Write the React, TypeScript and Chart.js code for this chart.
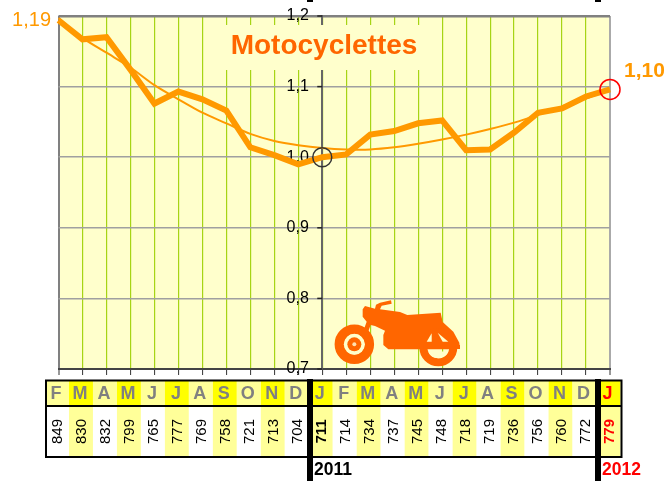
import React, { useEffect, useRef } from "react";
import { Chart, registerables } from "chart.js";

Chart.register(...registerables);

const months = ["F", "M", "A", "M", "J", "J", "A", "S", "O", "N", "D", "J", "F", "M", "A", "M", "J", "J", "A", "S", "O", "N", "D", "J"];
const counts = [849, 830, 832, 799, 765, 777, 769, 758, 721, 713, 704, 711, 714, 734, 737, 745, 748, 718, 719, 736, 756, 760, 772, 779];
const indexValues = [1.194, 1.167, 1.17, 1.124, 1.076, 1.093, 1.082, 1.066, 1.014, 1.003, 0.99, 1.0, 1.004, 1.032, 1.037, 1.048, 1.052, 1.01, 1.011, 1.035, 1.063, 1.069, 1.086, 1.096];
const trendValues = [1.197, 1.169, 1.148, 1.127, 1.102, 1.082, 1.063, 1.048, 1.033, 1.023, 1.017, 1.013, 1.011, 1.011, 1.014, 1.019, 1.025, 1.032, 1.04, 1.049, 1.06, 1.072, 1.083, 1.096];
const baseCircle = [null, null, null, null, null, null, null, null, null, null, null, 1.0, null, null, null, null, null, null, null, null, null, null, null, null];
const lastCircle = [null, null, null, null, null, null, null, null, null, null, null, null, null, null, null, null, null, null, null, null, null, null, null, 1.096];
const titleText = "Motocyclettes";
const firstLabel = "1,19";
const lastLabel = "1,10";
const years = ["2011", "2012"];

const FONT = '"Liberation Sans", Arial, sans-serif';
const ORANGE = "#FF9900";
const TITLE_ORANGE = "#FF6600";

function drawMoto(ctx: CanvasRenderingContext2D) {
  const X = (v: number) => 320 + v / 3;
  const Y = (v: number) => 290 + v / 3;
  ctx.save();
  ctx.fillStyle = TITLE_ORANGE;
  const body: [number, number][] = [
    [128, 58], [135, 48], [165, 56], [168, 44], [180, 38], [213, 31], [215, 41], [185, 47], [180, 58], [240, 66], [262, 75], [362, 68], [368, 96],
    [400, 125], [418, 158], [420, 176], [395, 178], [300, 178], [205, 178], [190, 165], [190, 135], [195, 122], [165, 108], [152, 105], [135, 150], [122, 145], [140, 95], [128, 80],
  ];
  ctx.beginPath();
  body.forEach(([a, b], i) => (i ? ctx.lineTo(X(a), Y(b)) : ctx.moveTo(X(a), Y(b))));
  ctx.closePath();
  ctx.fill();
  // front wheel
  ctx.strokeStyle = TITLE_ORANGE;
  ctx.lineWidth = 9.5;
  ctx.beginPath();
  ctx.arc(X(103), Y(163), 15, 0, Math.PI * 2);
  ctx.stroke();
  ctx.fillStyle = "#FFFFCC";
  ctx.beginPath();
  ctx.arc(X(103), Y(163), 10.5, 0, Math.PI * 2);
  ctx.fill();
  ctx.fillStyle = TITLE_ORANGE;
  ctx.beginPath();
  ctx.arc(X(103), Y(163), 7, 0, Math.PI * 2);
  ctx.fill();
  ctx.fillStyle = "#FFE0B0";
  ctx.beginPath();
  ctx.arc(X(103), Y(163), 2, 0, Math.PI * 2);
  ctx.fill();
  // rear wheel
  ctx.lineWidth = 8;
  ctx.beginPath();
  ctx.arc(X(355), Y(172), 15, 0, Math.PI * 2);
  ctx.stroke();
  ctx.fillStyle = "#FFFFCC";
  ctx.beginPath();
  ctx.arc(X(355), Y(172), 11, 0.12 * Math.PI, 0.88 * Math.PI);
  ctx.closePath();
  ctx.fill();
  ctx.beginPath();
  ctx.moveTo(X(320), Y(155));
  ctx.lineTo(X(335), Y(130));
  ctx.lineTo(X(335), Y(155));
  ctx.closePath();
  ctx.fill();
  ctx.beginPath();
  ctx.moveTo(X(368), Y(155));
  ctx.lineTo(X(353), Y(128));
  ctx.lineTo(X(385), Y(155));
  ctx.closePath();
  ctx.fill();
  ctx.fillStyle = TITLE_ORANGE;
  ctx.fillRect(X(310), Y(165), 110 / 3, 12 / 3);
  ctx.restore();
}

const decorations = {
  id: "decorations",
  beforeDraw(chart: any) {
    const { ctx, chartArea: a } = chart;
    ctx.save();
    ctx.fillStyle = "#FFFFCC";
    ctx.fillRect(a.left, a.top, a.right - a.left, a.bottom - a.top);
    ctx.restore();
  },
  beforeDatasetsDraw(chart: any) {
    const { ctx, scales } = chart;
    ctx.save();
    ctx.fillStyle = "#FFFFCC";
    ctx.fillRect(204, 25, 236, 45);
    // repaint the y axis only below the title box; ticks on its left side
    ctx.strokeStyle = "#222222";
    ctx.lineWidth = 1.5;
    const axisX = scales.x.getPixelForValue(11);
    scales.y.ticks.forEach((t: any) => {
      const py = scales.y.getPixelForValue(t.value);
      ctx.beginPath();
      ctx.moveTo(axisX - 5, py);
      ctx.lineTo(axisX, py);
      ctx.stroke();
    });
    ctx.fillStyle = TITLE_ORANGE;
    ctx.font = `bold 28px ${FONT}`;
    ctx.textAlign = "center";
    ctx.textBaseline = "middle";
    ctx.fillText(titleText, 324, 46);
    ctx.restore();
    drawMoto(ctx);
  },
  afterDraw(chart: any) {
    const { ctx, scales } = chart;
    const x = scales.x;
    const top = 381;
    const mid = 406;
    const bottom = 456.5;
    const w = x.getPixelForValue(1) - x.getPixelForValue(0);
    ctx.save();
    months.forEach((m, i) => {
      const cx = x.getPixelForValue(i) - 1.5;
      const odd = i % 2 === 1;
      ctx.fillStyle = odd ? "#FFFF00" : "#FFFF99";
      ctx.fillRect(cx - w / 2, top, w, mid - top);
      ctx.fillStyle = odd ? "#FFFF99" : "#FFFFFF";
      ctx.fillRect(cx - w / 2, mid, w, bottom - mid);
      const isLast = i === months.length - 1;
      ctx.fillStyle = isLast ? "#FF0000" : "#808080";
      ctx.font = `bold 18px ${FONT}`;
      ctx.textAlign = "center";
      ctx.textBaseline = "middle";
      ctx.fillText(m, cx - 1, 394);
      ctx.save();
      ctx.translate(cx + 1, 431.5);
      ctx.rotate(-Math.PI / 2);
      ctx.fillStyle = isLast ? "#FF0000" : "#000000";
      ctx.font = `${i === 11 || isLast ? "bold " : ""}15px ${FONT}`;
      ctx.fillText(String(counts[i]), 0, 0);
      ctx.restore();
    });
    ctx.strokeStyle = "#000000";
    ctx.lineWidth = 2;
    ctx.strokeRect(46, 380.5, 575.5, 76.5);
    ctx.beginPath();
    ctx.moveTo(46, 406);
    ctx.lineTo(621, 406);
    ctx.stroke();
    ctx.fillStyle = "#000000";
    ctx.fillRect(307, 379, 6, 102);
    ctx.fillRect(595, 379, 6, 102);
    ctx.fillRect(307, 0, 6, 2);
    ctx.fillRect(595, 0, 6, 2);
    ctx.font = `bold 17.5px ${FONT}`;
    ctx.textAlign = "left";
    ctx.textBaseline = "middle";
    ctx.fillText(years[0], 314, 470);
    ctx.fillStyle = "#FF0000";
    ctx.fillText(years[1], 602, 470);
    ctx.fillStyle = ORANGE;
    ctx.font = `20px ${FONT}`;
    ctx.textAlign = "right";
    ctx.fillText(firstLabel, 51, 20);
    ctx.font = `bold 21px ${FONT}`;
    ctx.textAlign = "left";
    ctx.fillText(lastLabel, 624, 71);
    ctx.restore();
  },
};

export default function App() {
  const ref = useRef<HTMLCanvasElement>(null);
  useEffect(() => {
    const chart = new Chart(ref.current as HTMLCanvasElement, {
      type: "line",
      data: {
        labels: months,
        datasets: [
          { data: baseCircle, showLine: false, pointRadius: 9.5, pointBorderColor: "#333333", pointBackgroundColor: "transparent", pointBorderWidth: 1.5, clip: false },
          { data: lastCircle, showLine: false, pointRadius: 10, pointBorderColor: "#FF0000", pointBackgroundColor: "transparent", pointBorderWidth: 1.5, clip: false },
          { data: indexValues, borderColor: ORANGE, borderWidth: 6, pointRadius: 0, tension: 0, clip: false },
          { data: trendValues, borderColor: ORANGE, borderWidth: 2, pointRadius: 0, tension: 0.3, clip: false },
        ],
      } as any,
      options: {
        animation: false,
        responsive: false,
        events: [],
        layout: { padding: { left: 58.5, top: 16, right: 56, bottom: 106 } },
        plugins: { legend: { display: false }, tooltip: { enabled: false } },
        scales: {
          x: {
            type: "category",
            offset: false,
            border: { color: "#444444", width: 2 },
            grid: {
              color: (c: any) => (c.index === 0 ? "#808080" : c.index === 23 ? "#AAAAAA" : "#A6D415"),
              lineWidth: (c: any) => (c.index === 0 || c.index === 23 ? 2 : 1.2),
              tickColor: "#333333",
              tickWidth: 1,
              tickLength: 6,
            },
            ticks: { display: false, autoSkip: false, maxRotation: 0 },
          },
          y: {
            position: { x: 11 } as any,
            min: 0.7,
            max: 1.2,
            border: { color: "#666666", width: 2 },
            grid: {
              color: (c: any) => (c.tick && c.tick.value > 1.19 ? "#808080" : "#A0A0A0"),
              lineWidth: (c: any) => (c.tick && c.tick.value > 1.19 ? 2.5 : 1.5),
              drawTicks: false,
            },
            ticks: { stepSize: 0.1, display: false },
          },
          yLabels: {
            position: { x: 10.44 } as any,
            min: 0.7,
            max: 1.2,
            border: { display: false },
            grid: { display: false },
            ticks: {
              stepSize: 0.1,
              color: "#000000",
              padding: 0,
              font: { family: FONT, size: 16 },
              callback: (v: any) => Number(v).toFixed(1).replace(".", ","),
            },
          },
        },
      } as any,
      plugins: [decorations],
    });
    return () => chart.destroy();
  }, []);
  return (
    <div style={{ position: "absolute", left: 0, top: 0, width: 666, height: 481, background: "#fff" }}>
      <canvas ref={ref} width={666} height={481} style={{ display: "block" }} />
    </div>
  );
}
